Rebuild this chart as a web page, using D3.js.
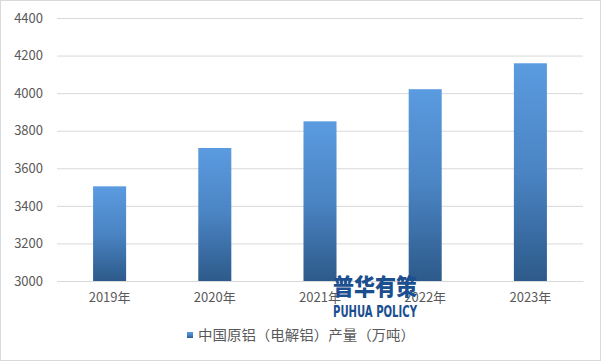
<!DOCTYPE html>
<html><head><meta charset="utf-8">
<script src="https://cdn.jsdelivr.net/npm/d3@7"></script>
<style>body{margin:0;background:#fff}svg{display:block}</style>
</head><body>
<script>
const categories = ["2019年","2020年","2021年","2022年","2023年"];
const values = [3504, 3708, 3850, 4021, 4159];
const yTicks = [3000,3200,3400,3600,3800,4000,4200,4400];
const seriesName = "中国原铝（电解铝）产量（万吨）";

const W = 601, H = 361;
const svg = d3.select("body").append("svg").attr("width", W).attr("height", H);
const font = "'Noto Sans CJK SC','Microsoft YaHei',sans-serif";

svg.append("rect").attr("x",0.5).attr("y",0.5).attr("width",W-1).attr("height",H-1)
  .attr("fill","#fff").attr("stroke","#d9d9d9");

const defs = svg.append("defs");
const g = defs.append("linearGradient").attr("id","bg").attr("x1",0).attr("y1",0).attr("x2",0).attr("y2",1);
g.append("stop").attr("offset","0%").attr("stop-color","#5b9be0");
g.append("stop").attr("offset","50%").attr("stop-color","#4a84c3");
g.append("stop").attr("offset","100%").attr("stop-color","#2d5a8a");

const x = d3.scaleBand().domain(categories).range([57,583]).paddingInner(0.686).paddingOuter(0.343);
const y = d3.scaleLinear().domain([3000,4400]).range([281,18]);

const yAxis = svg.append("g").attr("transform","translate(57,0)")
  .call(d3.axisLeft(y).tickValues(yTicks).tickSize(-526).tickPadding(14).tickFormat(d3.format("d")));
yAxis.select(".domain").remove();
yAxis.selectAll("line").attr("stroke","#d9d9d9");
yAxis.selectAll("text").attr("fill","#595959").style("font-family",font).style("font-size","13px");

svg.selectAll("rect.bar").data(values).enter().append("rect").attr("class","bar")
  .attr("x",(d,i)=>x(categories[i])).attr("width",x.bandwidth())
  .attr("y",d=>y(d)).attr("height",d=>y(3000)-y(d)).attr("fill","url(#bg)");

const xAxis = svg.append("g").attr("transform","translate(0,281)")
  .call(d3.axisBottom(x).tickSize(0).tickPadding(12));
xAxis.select(".domain").attr("stroke","#d9d9d9");
xAxis.selectAll("text").attr("fill","#595959").style("font-family",font).style("font-size","13px");

// legend
svg.append("rect").attr("x",187).attr("y",332).attr("width",6).attr("height",6).attr("fill","url(#bg)");
svg.append("text").attr("x",198).attr("y",340).text(seriesName)
  .attr("fill","#595959").style("font-family",font).style("font-size","14px")
  .attr("textLength",217).attr("lengthAdjust","spacingAndGlyphs");

// watermark
svg.append("text").attr("x",333).attr("y",295).text("普华有策")
  .attr("fill","#1b4f8f").style("font-family",font).style("font-size","23px").style("font-weight","900")
  .attr("textLength",84).attr("lengthAdjust","spacingAndGlyphs");
svg.append("text").attr("x",333).attr("y",317).text("PUHUA POLICY")
  .attr("fill","#1b4f8f").style("font-family","'DejaVu Sans Condensed','Liberation Sans Narrow',sans-serif").style("font-size","16px").style("font-weight","bold")
  .attr("textLength",84).attr("lengthAdjust","spacingAndGlyphs");
</script>
</body></html>
